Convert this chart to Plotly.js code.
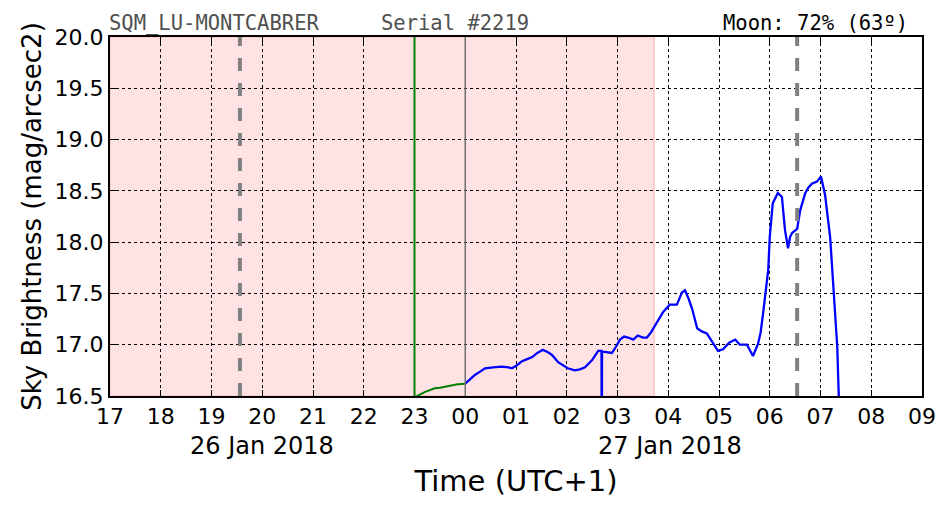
<!DOCTYPE html>
<html><head><meta charset="utf-8">
<script src="https://cdn.plot.ly/plotly-3.0.1.min.js"></script>
<style>body{margin:0;background:#fff}#c{width:952px;height:512px}</style>
</head><body><div id="c"></div>
<script>
// hours since 26 Jan 00:00 (local UTC+1)
const greenHours = [23.0, 23.05, 23.21, 23.30, 23.40, 23.50, 23.60, 23.74, 23.85, 24.0];
const greenMag   = [16.45, 16.50, 16.54, 16.56, 16.575, 16.58, 16.59, 16.61, 16.615, 16.62];
const blueHours = [24.0,24.10,24.19,24.30,24.39,24.55,24.72,24.85,24.92,25.02,25.12,25.22,25.32,25.42,25.53,25.62,25.71,25.83,25.92,26.02,26.16,26.26,26.36,26.50,26.62,26.685,26.69,26.695,26.75,26.89,26.97,27.05,27.13,27.21,27.31,27.40,27.50,27.58,27.66,27.74,27.82,27.90,28.03,28.17,28.27,28.33,28.40,28.47,28.57,28.66,28.76,28.86,28.98,29.08,29.20,29.32,29.41,29.55,29.67,29.77,29.82,29.87,29.91,29.97,30.00,30.06,30.16,30.24,30.30,30.36,30.40,30.44,30.54,30.60,30.70,30.76,30.83,30.93,31.01,31.09,31.19,31.25,31.33,31.36,31.40];
const blueMag   = [16.62,16.67,16.705,16.74,16.77,16.78,16.786,16.78,16.77,16.80,16.84,16.86,16.88,16.92,16.95,16.93,16.90,16.83,16.80,16.77,16.75,16.76,16.78,16.85,16.94,16.94,15.5,16.93,16.93,16.92,16.98,17.05,17.08,17.07,17.05,17.09,17.07,17.07,17.12,17.19,17.26,17.32,17.39,17.39,17.51,17.53,17.45,17.35,17.16,17.13,17.11,17.03,16.94,16.955,17.02,17.05,17.0,17.0,16.89,17.01,17.12,17.31,17.47,17.73,18.05,18.38,18.48,18.44,18.12,17.94,18.05,18.09,18.13,18.31,18.48,18.53,18.57,18.59,18.64,18.46,18.05,17.63,16.98,16.5,16.2];
const tickHours = [17,18,19,20,21,22,23,24,25,26,27,28,29,30,31,32,33];
const tickText  = ['17','18','19','20','21','22','23','00','01','02','03','04','05','06','07','08','09'];
const dateLabels = ['26 Jan 2018','27 Jan 2018'];
const dateHours  = [20.0, 28.03];
const nightEnd = 27.72;
const moonLines = [19.56, 30.54];
const greenLineHour = 23.0;
const midnightHour = 24.0;

const shapes = [
  {type:'rect',xref:'x',yref:'paper',x0:17,x1:nightEnd,y0:0,y1:1,fillcolor:'#ffe2e4',line:{color:'#ffcdd0',width:2},layer:'below'},
  ...moonLines.map(h=>({type:'line',xref:'x',yref:'paper',x0:h,x1:h,y0:0,y1:1,line:{color:'#808080',width:4,dash:'13px,12px'}})),
  {type:'line',xref:'x',yref:'paper',x0:greenLineHour,x1:greenLineHour,y0:0,y1:1,line:{color:'#008000',width:2}},
  {type:'line',xref:'x',yref:'paper',x0:midnightHour,x1:midnightHour,y0:0,y1:1,line:{color:'#707070',width:1.5}}
];
const ann = [
  {xref:'paper',yref:'paper',x:0,y:1,yanchor:'bottom',xanchor:'left',xshift:-3,yshift:0,text:'SQM_LU-MONTCABRER',showarrow:false,font:{family:'DejaVu Sans Mono',size:20.5,color:'#505050'}},
  {xref:'paper',yref:'paper',x:0.338,y:1,yanchor:'bottom',xanchor:'left',xshift:-5,yshift:0,text:'Serial #2219',showarrow:false,font:{family:'DejaVu Sans Mono',size:20.5,color:'#505050'}},
  {xref:'paper',yref:'paper',x:0.98,y:1,yanchor:'bottom',xanchor:'right',xshift:4,yshift:0,text:'Moon: 72% (63º)',showarrow:false,font:{family:'DejaVu Sans Mono',size:20.5,color:'#000'}},
  ...dateLabels.map((t,i)=>({xref:'x',yref:'paper',x:dateHours[i],y:0,yanchor:'top',yshift:-34,text:t,showarrow:false,font:{family:'DejaVu Sans',size:24,color:'#000'}}))
];
const data = [
  {x:greenHours,y:greenMag,mode:'lines',line:{color:'#008000',width:2},hoverinfo:'skip'},
  {x:blueHours,y:blueMag,mode:'lines',line:{color:'#0000ff',width:2.3},hoverinfo:'skip'}
];
const layout = {
  width:952,height:512,margin:{l:110,r:30,t:37,b:116},
  paper_bgcolor:'#fff',plot_bgcolor:'#fff',showlegend:false,
  font:{family:'DejaVu Sans',color:'#000'},
  xaxis:{range:[17,33],tickvals:tickHours,ticktext:tickText,showgrid:true,gridcolor:'#000',griddash:'dot',gridwidth:1,
    ticks:'inside',ticklen:6,tickcolor:'#000',showline:true,linecolor:'#000',linewidth:2,mirror:'ticks',zeroline:false,
    tickfont:{size:22},title:{text:'Time (UTC+1)',font:{size:29},standoff:42}},
  yaxis:{range:[16.5,20.0],tickvals:[16.5,17,17.5,18,18.5,19,19.5,20],ticktext:['16.5','17.0','17.5','18.0','18.5','19.0','19.5','20.0'],
    showgrid:true,gridcolor:'#000',griddash:'dot',gridwidth:1,
    ticks:'inside',ticklen:6,tickcolor:'#000',showline:true,linecolor:'#000',linewidth:2,mirror:'ticks',zeroline:false,
    tickfont:{size:22},title:{text:'Sky Brightness (mag/arcsec2)',font:{size:26},standoff:6}},
  shapes:shapes,annotations:ann
};
Plotly.newPlot('c',data,layout,{staticPlot:true});
</script></body></html>
